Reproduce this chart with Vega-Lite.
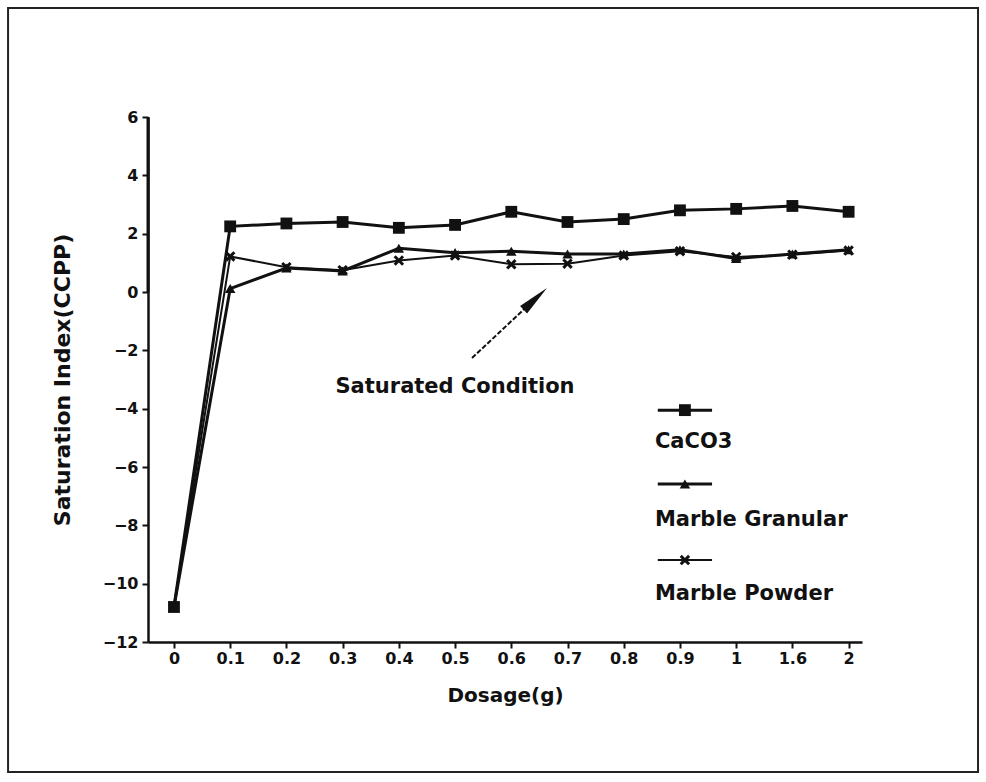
{
  "$schema": "https://vega.github.io/schema/vega-lite/v6.json",
  "autosize": {"type": "none"},
  "width": 714,
  "height": 525,
  "padding": {"left": 148, "top": 117, "right": 124, "bottom": 140},
  "background": "white",
  "config": {
    "view": {"stroke": null},
    "font": "DejaVu Sans",
    "text": {"font": "DejaVu Sans", "fontWeight": "bold", "color": "#111"}
  },
  "datasets": {
    "ccpp": [
      {"dose": "0", "series": "CaCO3", "si": -10.8},
      {"dose": "0.1", "series": "CaCO3", "si": 2.25},
      {"dose": "0.2", "series": "CaCO3", "si": 2.35},
      {"dose": "0.3", "series": "CaCO3", "si": 2.4},
      {"dose": "0.4", "series": "CaCO3", "si": 2.2},
      {"dose": "0.5", "series": "CaCO3", "si": 2.3},
      {"dose": "0.6", "series": "CaCO3", "si": 2.75},
      {"dose": "0.7", "series": "CaCO3", "si": 2.4},
      {"dose": "0.8", "series": "CaCO3", "si": 2.5},
      {"dose": "0.9", "series": "CaCO3", "si": 2.8},
      {"dose": "1", "series": "CaCO3", "si": 2.85},
      {"dose": "1.6", "series": "CaCO3", "si": 2.95},
      {"dose": "2", "series": "CaCO3", "si": 2.75},
      {"dose": "0", "series": "Marble Granular", "si": -10.8},
      {"dose": "0.1", "series": "Marble Granular", "si": 0.12},
      {"dose": "0.2", "series": "Marble Granular", "si": 0.82},
      {"dose": "0.3", "series": "Marble Granular", "si": 0.72},
      {"dose": "0.4", "series": "Marble Granular", "si": 1.5},
      {"dose": "0.5", "series": "Marble Granular", "si": 1.35},
      {"dose": "0.6", "series": "Marble Granular", "si": 1.4},
      {"dose": "0.7", "series": "Marble Granular", "si": 1.3},
      {"dose": "0.8", "series": "Marble Granular", "si": 1.3},
      {"dose": "0.9", "series": "Marble Granular", "si": 1.45},
      {"dose": "1", "series": "Marble Granular", "si": 1.15},
      {"dose": "1.6", "series": "Marble Granular", "si": 1.3},
      {"dose": "2", "series": "Marble Granular", "si": 1.45},
      {"dose": "0", "series": "Marble Powder", "si": -10.8},
      {"dose": "0.1", "series": "Marble Powder", "si": 1.22},
      {"dose": "0.2", "series": "Marble Powder", "si": 0.85},
      {"dose": "0.3", "series": "Marble Powder", "si": 0.75},
      {"dose": "0.4", "series": "Marble Powder", "si": 1.08},
      {"dose": "0.5", "series": "Marble Powder", "si": 1.25},
      {"dose": "0.6", "series": "Marble Powder", "si": 0.95},
      {"dose": "0.7", "series": "Marble Powder", "si": 0.97},
      {"dose": "0.8", "series": "Marble Powder", "si": 1.25},
      {"dose": "0.9", "series": "Marble Powder", "si": 1.4},
      {"dose": "1", "series": "Marble Powder", "si": 1.2},
      {"dose": "1.6", "series": "Marble Powder", "si": 1.28},
      {"dose": "2", "series": "Marble Powder", "si": 1.42}
    ]
  },
  "layer": [
    {
      "data": {"name": "ccpp"},
      "encoding": {
        "x": {
          "field": "dose",
          "type": "ordinal",
          "sort": null,
          "scale": {
            "type": "point",
            "domain": ["0", "0.1", "0.2", "0.3", "0.4", "0.5", "0.6", "0.7", "0.8", "0.9", "1", "1.6", "2"],
            "padding": 0.35,
            "align": 0.66
          },
          "axis": {
            "title": "Dosage(g)",
            "labelAngle": 0,
            "domainColor": "#111",
            "domainWidth": 2.5,
            "tickColor": "#111",
            "tickWidth": 2,
            "tickSize": 6,
            "labelPadding": 2,
            "labelFont": "DejaVu Sans",
            "labelFontWeight": "bold",
            "labelFontSize": 16,
            "labelColor": "#111",
            "titleFont": "DejaVu Sans",
            "titleFontWeight": "bold",
            "titleFontSize": 20,
            "titleColor": "#111",
            "titlePadding": 19,
            "grid": false
          }
        }
      },
      "layer": [
        {
          "data": {"values": [{}]},
          "mark": {"type": "rule", "color": "#111", "strokeWidth": 3},
          "encoding": {
            "y": {"datum": 6, "type": "quantitative", "scale": {"domain": [-12, 6], "nice": false, "zero": false}}
          }
        },
        {
          "data": {"values": [{}]},
          "mark": {"type": "rule", "color": "#111", "strokeWidth": 3},
          "encoding": {
            "y": {"datum": 0, "type": "quantitative", "scale": {"domain": [-12, 6], "nice": false, "zero": false}}
          }
        },
        {
          "mark": {"type": "line", "color": "#111"},
          "encoding": {
            "detail": {"field": "series"},
            "strokeWidth": {
              "condition": {"test": "datum.series === 'Marble Powder'", "value": 2},
              "value": 3
            },
            "y": {
              "field": "si",
              "type": "quantitative",
              "scale": {"domain": [-12, 6], "nice": false, "zero": false},
              "axis": {
                "title": "Saturation Index(CCPP)",
                "values": [-12, -10, -8, -6, -4, -2, 0, 2, 4, 6],
                "domainColor": "#111",
                "domainWidth": 2.5,
                "tickColor": "#111",
                "tickWidth": 2,
                "tickSize": 6,
                "labelPadding": 4,
                "labelFont": "DejaVu Sans",
                "labelFontWeight": "bold",
                "labelFontSize": 16,
                "labelColor": "#111",
                "titleFont": "DejaVu Sans",
                "titleFontWeight": "bold",
                "titleFontSize": 22,
                "titleColor": "#111",
                "titlePadding": 28,
                "grid": false
              }
            }
          }
        },
        {
          "mark": {"type": "point", "filled": true, "color": "#111", "opacity": 1},
          "encoding": {
            "y": {"field": "si", "type": "quantitative", "scale": {"domain": [-12, 6], "nice": false, "zero": false}},
            "shape": {
              "field": "series",
              "type": "nominal",
              "scale": {
                "domain": ["CaCO3", "Marble Granular", "Marble Powder"],
                "range": ["square", "triangle-up", "M-1,-0.6L-0.6,-1L0,-0.4L0.6,-1L1,-0.6L0.4,0L1,0.6L0.6,1L0,0.4L-0.6,1L-1,0.6L-0.4,0Z"]
              },
              "legend": null
            },
            "size": {
              "condition": {"test": "datum.series === 'CaCO3'", "value": 140},
              "value": 110
            }
          }
        }
      ]
    },
    {
      "data": {"values": [{}]},
      "layer": [
        {
          "mark": {"type": "rect", "fill": null, "stroke": "#222", "strokeWidth": 2},
          "encoding": {
            "x": {"datum": -0.196, "type": "quantitative", "scale": {"domain": [0, 1], "nice": false, "zero": false}, "axis": null},
            "x2": {"datum": 1.1625},
            "y": {"datum": 9.737, "type": "quantitative", "scale": {"domain": [-12, 6], "nice": false, "zero": false}},
            "y2": {"datum": -16.457}
          }
        },
        {
          "mark": {"type": "rule", "color": "#111", "strokeWidth": 2, "strokeDash": [5, 2]},
          "encoding": {
            "x": {"datum": 0.4538, "type": "quantitative"},
            "x2": {"datum": 0.542},
            "y": {"datum": -2.263, "type": "quantitative"},
            "y2": {"datum": -0.24}
          }
        },
        {
          "mark": {"type": "point", "filled": true, "color": "#111", "opacity": 1, "shape": "M0,-1L0.32,1L-0.32,1Z", "size": 1024, "angle": 47},
          "encoding": {
            "x": {"datum": 0.5424, "type": "quantitative"},
            "y": {"datum": -0.237, "type": "quantitative"}
          }
        },
        {
          "mark": {"type": "text", "fontSize": 21, "align": "center", "baseline": "middle", "text": "Saturated Condition"},
          "encoding": {
            "x": {"datum": 0.43, "type": "quantitative"},
            "y": {"datum": -3.25, "type": "quantitative"}
          }
        },
        {
          "mark": {"type": "rule", "color": "#111", "strokeWidth": 3},
          "encoding": {
            "x": {"datum": 0.714, "type": "quantitative"},
            "x2": {"datum": 0.79},
            "y": {"datum": -4.05, "type": "quantitative"}
          }
        },
        {
          "mark": {"type": "point", "filled": true, "color": "#111", "opacity": 1, "shape": "square", "size": 140},
          "encoding": {
            "x": {"datum": 0.752, "type": "quantitative"},
            "y": {"datum": -4.05, "type": "quantitative"}
          }
        },
        {
          "mark": {"type": "text", "fontSize": 21, "align": "left", "baseline": "middle", "text": "CaCO3"},
          "encoding": {
            "x": {"datum": 0.71, "type": "quantitative"},
            "y": {"datum": -5.15, "type": "quantitative"}
          }
        },
        {
          "mark": {"type": "rule", "color": "#111", "strokeWidth": 3},
          "encoding": {
            "x": {"datum": 0.714, "type": "quantitative"},
            "x2": {"datum": 0.79},
            "y": {"datum": -6.58, "type": "quantitative"}
          }
        },
        {
          "mark": {"type": "point", "filled": true, "color": "#111", "opacity": 1, "shape": "triangle-up", "size": 110},
          "encoding": {
            "x": {"datum": 0.752, "type": "quantitative"},
            "y": {"datum": -6.58, "type": "quantitative"}
          }
        },
        {
          "mark": {"type": "text", "fontSize": 21, "align": "left", "baseline": "middle", "text": "Marble Granular"},
          "encoding": {
            "x": {"datum": 0.71, "type": "quantitative"},
            "y": {"datum": -7.8, "type": "quantitative"}
          }
        },
        {
          "mark": {"type": "rule", "color": "#111", "strokeWidth": 2},
          "encoding": {
            "x": {"datum": 0.714, "type": "quantitative"},
            "x2": {"datum": 0.79},
            "y": {"datum": -9.19, "type": "quantitative"}
          }
        },
        {
          "mark": {"type": "point", "filled": true, "color": "#111", "opacity": 1, "shape": "M-1,-0.6L-0.6,-1L0,-0.4L0.6,-1L1,-0.6L0.4,0L1,0.6L0.6,1L0,0.4L-0.6,1L-1,0.6L-0.4,0Z", "size": 110},
          "encoding": {
            "x": {"datum": 0.752, "type": "quantitative"},
            "y": {"datum": -9.19, "type": "quantitative"}
          }
        },
        {
          "mark": {"type": "text", "fontSize": 21, "align": "left", "baseline": "middle", "text": "Marble Powder"},
          "encoding": {
            "x": {"datum": 0.71, "type": "quantitative"},
            "y": {"datum": -10.35, "type": "quantitative"}
          }
        }
      ]
    }
  ],
  "resolve": {"scale": {"x": "independent"}}
}
